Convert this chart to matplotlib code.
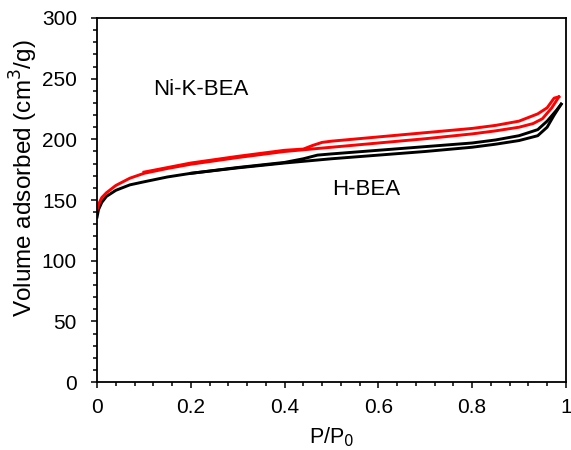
import matplotlib.pyplot as plt
from matplotlib.ticker import MultipleLocator

plt.rcParams['font.family'] = ['Liberation Sans', 'DejaVu Sans']

# Ni-K-BEA isotherm
nik_ads_p = [0.0, 0.005, 0.01, 0.02, 0.04, 0.07, 0.1, 0.15, 0.2, 0.3, 0.4, 0.5,
             0.6, 0.7, 0.8, 0.85, 0.9, 0.93, 0.95, 0.97, 0.98, 0.985]
nik_ads_v = [142, 148, 152, 156, 162, 168, 172, 176, 179.5, 185, 190, 193.5,
             197, 200.5, 204.5, 207, 210, 213, 217, 226, 232, 235]
nik_des_p = [0.985, 0.975, 0.96, 0.94, 0.9, 0.85, 0.8, 0.7, 0.6, 0.5, 0.48,
             0.46, 0.44, 0.4, 0.3, 0.2, 0.1]
nik_des_v = [235, 234, 226, 221, 215, 211.5, 209, 205.5, 202, 198.5, 197.5,
             195, 192, 191, 186, 180.5, 173]

# H-BEA isotherm
hb_ads_p = [0.0, 0.003, 0.01, 0.02, 0.04, 0.07, 0.1, 0.15, 0.2, 0.3, 0.4, 0.5,
            0.6, 0.7, 0.8, 0.85, 0.9, 0.94, 0.96, 0.975, 0.99]
hb_ads_v = [136, 142, 148, 153, 158, 162.5, 165, 169, 172, 176.5, 180.5, 184,
            187, 190, 193.5, 196, 199, 203, 210, 220, 229]
hb_des_p = [0.99, 0.98, 0.96, 0.94, 0.9, 0.85, 0.8, 0.7, 0.6, 0.5, 0.47, 0.44,
            0.4, 0.3, 0.2]
hb_des_v = [229, 224, 215, 208, 203, 199.5, 197, 194, 191, 188, 187, 184,
            181, 176.8, 172]

fig = plt.figure(figsize=(5.71, 4.5), dpi=100)
ax = fig.add_axes([0.170, 0.151, 0.821, 0.809])

ax.plot(hb_ads_p, hb_ads_v, color='black', lw=2.1)
ax.plot(hb_des_p, hb_des_v, color='black', lw=2.1)
ax.plot(nik_ads_p, nik_ads_v, color='#ff0000', lw=2.1)
ax.plot(nik_des_p, nik_des_v, color='#ff0000', lw=2.1)

ax.text(0.119, 236.6, 'Ni-K-BEA', fontsize=16, ha='left', va='baseline')
ax.text(0.502, 154, 'H-BEA', fontsize=16, ha='left', va='baseline')

ax.set_xlim(0, 1)
ax.set_ylim(0, 300)
ax.set_xticks([0, 0.2, 0.4, 0.6, 0.8, 1])
ax.set_xticklabels(['0', '0.2', '0.4', '0.6', '0.8', '1'])
ax.xaxis.set_minor_locator(MultipleLocator(0.04))
ax.yaxis.set_major_locator(MultipleLocator(50))
ax.yaxis.set_minor_locator(MultipleLocator(10))
ax.tick_params(which='major', direction='out', length=4.5, width=1.1, labelsize=15)
ax.tick_params(axis='x', which='major', pad=7)
ax.tick_params(axis='y', which='major', pad=10)
ax.tick_params(which='minor', direction='out', length=2.8, width=1.1)
for s in ax.spines.values():
    s.set_linewidth(1.3)

ax.set_xlabel('P/P$_0$', fontsize=15.5, labelpad=6)
ax.set_ylabel('Volume adsorbed (cm$^3$/g)', fontsize=17.5)
ax.yaxis.set_label_coords(-0.122, 0.56)

plt.savefig('out.png', dpi=100)
plt.close()
